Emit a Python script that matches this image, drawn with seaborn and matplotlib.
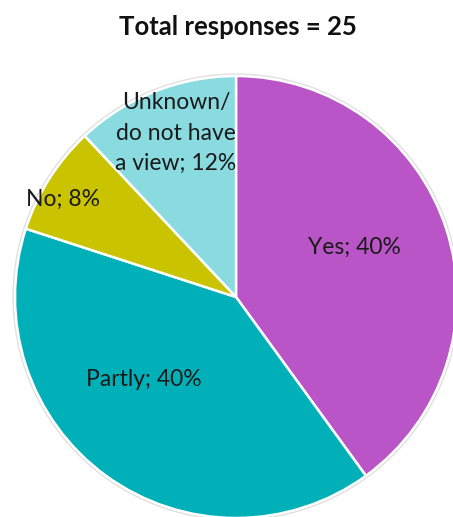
import numpy as np
import matplotlib
matplotlib.use("Agg")
import matplotlib.pyplot as plt
import seaborn as sns
from matplotlib.patches import Circle

# Survey answers, clockwise from 12 o'clock
categories = ["Yes", "Partly", "No", "Unknown/\ndo not have\na view"]
shares = [40, 40, 8, 12]
title = "Total responses = 25"

colors = ["#BA55C8", "#00B0B9", "#C9C300", "#8ADBE0"]

sns.set_theme(style="white")
plt.rcParams["font.family"] = ["Lato", "DejaVu Sans"]

W, H = 453, 517
fig = plt.figure(figsize=(W / 100, H / 100), dpi=100)
ax = fig.add_axes([0, 0, 1, 1])
ax.set_xlim(0, W)
ax.set_ylim(0, H)
ax.axis("off")

cx, cy, r = 236, H - 297, 221

# soft outline around the disc
ax.add_patch(Circle((cx, cy), r + 1.2, facecolor="none", edgecolor="#e0e0e0",
                    linewidth=2.0, zorder=0))

wedges, _ = ax.pie(shares, colors=colors, startangle=90, counterclock=False,
                   center=(cx, cy), radius=r,
                   wedgeprops=dict(edgecolor="white", linewidth=1.8))
ax.set_xlim(0, W)
ax.set_ylim(0, H)
ax.set_aspect("auto")

# label placement: (fraction of radius, angle nudge in degrees)
placement = [(0.58, 5), (0.56, -12), (0.90, 3), (0.79, -1.5)]
for w, cat, val, (frac, nudge) in zip(wedges, categories, shares, placement):
    mid = np.deg2rad((w.theta1 + w.theta2) / 2 + nudge)
    x = cx + frac * r * np.cos(mid)
    y = cy + frac * r * np.sin(mid)
    ax.text(x, y, f"{cat}; {val}%", ha="center", va="center",
            fontsize=16.5, color="#1a1a1a", linespacing=1.55)

ax.text(238, H - 27, title, ha="center", va="center",
        fontsize=18.5, fontweight="bold", color="#111111")

fig.savefig("out.png", dpi=100)
